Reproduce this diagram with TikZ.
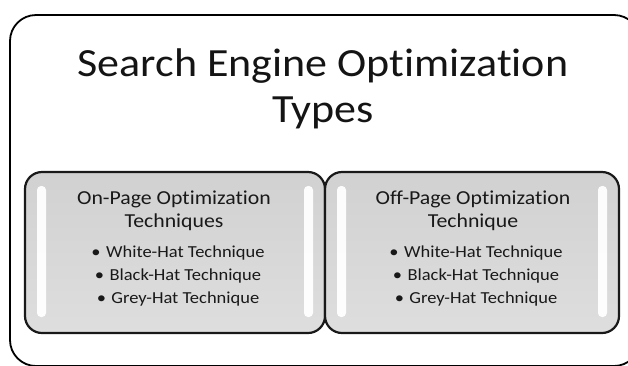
\documentclass[tikz,border=0pt]{standalone}
\usepackage{fontspec}
\setmainfont{Carlito}[Ligatures=NoCommon, FakeStretch=1.1]
\usetikzlibrary{fadings}
% glossy strip: opaque in the middle, fading out at both ends
\pgfdeclareverticalshading{stripshade}{100bp}{color(0bp)=(black); color(18bp)=(white); color(82bp)=(white); color(100bp)=(black)}
\pgfdeclarefading{stripfade}{\pgfuseshading{stripshade}}
\newcommand{\bulletitem}[1]{\textbullet\hspace{5.5pt}#1}
\tikzset{
  outerbox/.style={draw=black, line width=1.8pt, rounded corners=26pt},
  techbox/.style={draw=black!90, line width=2.2pt, rounded corners=17pt,
    top color=black!18, bottom color=black!13},
  gloss/.style={fill=white, rounded corners=4pt, path fading=stripfade, fill opacity=0.95},
  titletext/.style={font=\fontsize{40}{46}\selectfont, align=center, text=black!92, anchor=base, inner sep=0pt},
  headtext/.style={font=\fontsize{19.8}{23}\selectfont, align=center, text=black!90, anchor=base, inner sep=0pt},
  itemtext/.style={font=\fontsize{16.8}{23}\selectfont, align=center, text=black!90, anchor=base, inner sep=0pt},
}
\begin{document}
\begin{tikzpicture}[x=1pt, y=-1pt]
  \useasboundingbox (0,0) rectangle (628,365);
  % outer frame, running past the right and bottom edges
  \draw[outerbox] (10,15) rectangle (640,366);
  % multi-line nodes sit on the baseline of their last line
  \node[titletext] (title) at (323,122) {Search Engine Optimization\\Types};

  % on-page box
  \draw[techbox] (25,172) rectangle (325,333);
  \fill[gloss] (37,186) rectangle (46,317);
  \fill[gloss] (304,186) rectangle (313,317);
  \node[headtext] (onhead) at (174,227) {On-Page Optimization\\Techniques};
  \node[itemtext] (onitems) at (178,303) {\bulletitem{White-Hat Technique}\\\bulletitem{Black-Hat Technique}\\\bulletitem{Grey-Hat Technique}};

  % off-page box
  \draw[techbox] (325,172) rectangle (619,333);
  \fill[gloss] (337,186) rectangle (346,317);
  \fill[gloss] (598,186) rectangle (607,317);
  \node[headtext] (offhead) at (473,227) {Off-Page Optimization\\Technique};
  \node[itemtext] (offitems) at (476,303) {\bulletitem{White-Hat Technique}\\\bulletitem{Black-Hat Technique}\\\bulletitem{Grey-Hat Technique}};
\end{tikzpicture}
\end{document}
